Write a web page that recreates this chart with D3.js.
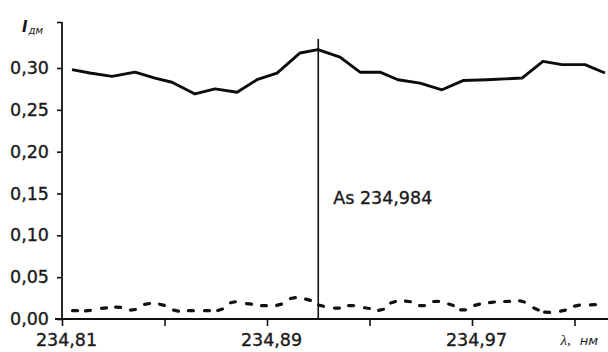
<!DOCTYPE html>
<html>
<head>
<meta charset="utf-8">
<script src="https://cdn.jsdelivr.net/npm/d3@7"></script>
<style>
  html, body { margin: 0; padding: 0; background: #fff; }
  svg { display: block; }
  text { font-family: "DejaVu Sans", sans-serif; fill: #1a1a1a; }
</style>
</head>
<body>
<svg id="chart" width="608" height="352"></svg>
<script>
// Background spectrum intensity (solid curve)
const bgWavelength = [234.8139, 234.8209, 234.8295, 234.8385, 234.8463, 234.8529, 234.8619, 234.8697,
  234.8783, 234.8861, 234.8939, 234.9029, 234.9099, 234.9185, 234.9263, 234.9341, 234.9411, 234.9497,
  234.9583, 234.9665, 234.9759, 234.9895, 234.9977, 235.0051, 235.0141, 235.0219];
const bgIntensity = [0.298, 0.294, 0.290, 0.295, 0.288, 0.283, 0.269, 0.275,
  0.271, 0.286, 0.294, 0.318, 0.322, 0.313, 0.295, 0.295, 0.286, 0.282,
  0.274, 0.285, 0.286, 0.288, 0.308, 0.304, 0.304, 0.294];

// Residual intensity (dashed curve)
const resWavelength = [234.8151, 234.8201, 234.8264, 234.8319, 234.8377, 234.8432, 234.8490, 234.8545,
  234.8603, 234.8666, 234.8717, 234.8767, 234.8830, 234.8888, 234.8947, 234.9001, 234.9060, 234.9111,
  234.9173, 234.9228, 234.9290, 234.9345, 234.9392, 234.9450, 234.9505, 234.9560, 234.9618, 234.9665,
  234.9720, 234.9778, 234.9837, 234.9895, 234.9950, 234.9993, 235.0055, 235.0110, 235.0172];
const resIntensity = [0.010, 0.010, 0.013, 0.014, 0.011, 0.018, 0.017, 0.010,
  0.010, 0.010, 0.011, 0.020, 0.018, 0.016, 0.017, 0.025, 0.023, 0.016,
  0.013, 0.016, 0.013, 0.011, 0.020, 0.021, 0.016, 0.021, 0.017, 0.011,
  0.017, 0.020, 0.021, 0.021, 0.012, 0.008, 0.010, 0.016, 0.017];

// Axis ticks
const xTicks = [234.81, 234.85, 234.89, 234.93, 234.97, 235.01];
const xTickLabels = ["234,81", "", "234,89", "", "234,97", ""];
const yTicks = [0.00, 0.05, 0.10, 0.15, 0.20, 0.25, 0.30];
const yTop = 0.355;

// Analytical line marker
const lineMarkerPos = 234.91;
const lineMarkerLabel = "As 234,984";

const width = 608, height = 352;
const labelSize = 17.5;
const svg = d3.select("#chart");

const x = d3.scaleLinear().domain([234.81, 235.01]).range([62, 574.5]);
const y = d3.scaleLinear().domain([0, yTop]).range([319, 22]);

// ---- Y axis
const yAxis = d3.axisLeft(y)
  .tickValues(yTicks.concat([yTop]))
  .tickSize(5)
  .tickPadding(8)
  .tickFormat(d => d === yTop ? "" : d3.format(".2f")(d).replace(".", ","));
const gy = svg.append("g").attr("transform", "translate(62,0)").call(yAxis);
gy.select(".domain").remove();
gy.selectAll(".tick line").attr("stroke", "#111").attr("stroke-width", 1.6);
gy.selectAll(".tick text").attr("font-size", labelSize).attr("fill", "#1a1a1a")
  .attr("font-family", null).attr("stroke", "#1a1a1a").attr("stroke-width", 0.35);
svg.append("line")
  .attr("x1", 62).attr("x2", 62)
  .attr("y1", y(yTop)).attr("y2", y(0) + 1)
  .attr("stroke", "#111").attr("stroke-width", 1.8);

// Y axis title: I with subscript
const yt = svg.append("text").attr("x", 22).attr("y", 32)
  .attr("font-family", "'Liberation Serif', serif").attr("font-style", "italic");
yt.append("tspan").attr("font-size", 15).attr("font-weight", "bold").text("I");
yt.append("tspan").attr("font-size", 10).attr("dy", 2).attr("dx", 1).text("дм");

// ---- X axis
const xAxis = d3.axisBottom(x)
  .tickValues(xTicks)
  .tickSize(7)
  .tickPadding(8)
  .tickFormat((d, i) => xTickLabels[i]);
const gx = svg.append("g").attr("transform", `translate(0,${y(0)})`).call(xAxis);
gx.select(".domain").remove();
gx.selectAll(".tick line").attr("stroke", "#111").attr("stroke-width", 1.6);
gx.selectAll(".tick text").attr("font-size", labelSize).attr("fill", "#1a1a1a")
  .attr("font-family", null).attr("stroke", "#1a1a1a").attr("stroke-width", 0.35)
  .attr("dx", 4);
svg.append("line")
  .attr("x1", 55).attr("x2", width)
  .attr("y1", y(0)).attr("y2", y(0))
  .attr("stroke", "#111").attr("stroke-width", 2);

// X axis title
const xt = svg.append("text").attr("x", x(235.01) - 14).attr("y", 345)
  .attr("font-style", "italic");
xt.append("tspan").attr("font-size", 15).attr("font-family", "'Liberation Serif', serif").text("λ,");
xt.append("tspan").attr("font-size", 13).attr("dx", 9).text("нм");

// ---- Solid curve
const line = d3.line().x(d => x(d[0])).y(d => y(d[1]));
svg.append("path")
  .datum(d3.zip(bgWavelength, bgIntensity))
  .attr("d", line)
  .attr("fill", "none")
  .attr("stroke", "#0c0c0c")
  .attr("stroke-width", 2.9)
  .attr("stroke-linejoin", "round");

// ---- Dashed curve: one short dash per sample, oriented along the curve
const res = d3.zip(resWavelength, resIntensity);
const dashLen = 5;
svg.append("g").selectAll("line")
  .data(res)
  .join("line")
  .each(function (d, i) {
    const p = res[Math.max(0, i - 1)], n = res[Math.min(res.length - 1, i + 1)];
    const ang = Math.atan2(y(n[1]) - y(p[1]), x(n[0]) - x(p[0]));
    const cx = x(d[0]), cy = y(d[1]);
    const dx = Math.cos(ang) * dashLen / 2, dy = Math.sin(ang) * dashLen / 2;
    d3.select(this)
      .attr("x1", cx - dx).attr("y1", cy - dy)
      .attr("x2", cx + dx).attr("y2", cy + dy);
  })
  .attr("stroke", "#111")
  .attr("stroke-width", 3.2)
  .attr("stroke-linecap", "round");

// ---- Analytical line marker
svg.append("line")
  .attr("x1", x(lineMarkerPos)).attr("x2", x(lineMarkerPos))
  .attr("y1", 39).attr("y2", y(0))
  .attr("stroke", "#111").attr("stroke-width", 1.6);
svg.append("text")
  .attr("x", x(lineMarkerPos) + 15).attr("y", 204)
  .attr("font-size", labelSize)
  .attr("stroke", "#1a1a1a").attr("stroke-width", 0.35)
  .text(lineMarkerLabel);
</script>
</body>
</html>
